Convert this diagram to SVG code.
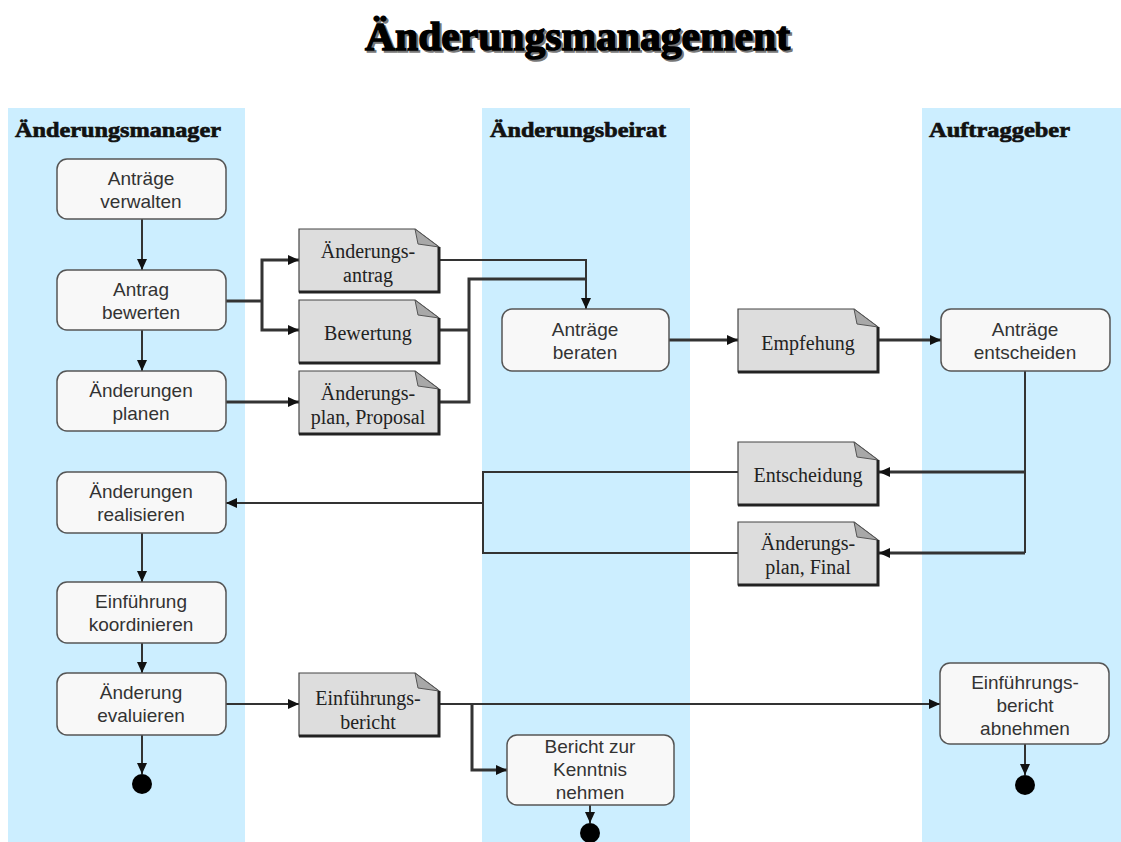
<svg xmlns="http://www.w3.org/2000/svg" xmlns:xlink="http://www.w3.org/1999/xlink" width="1121" height="842" viewBox="0 0 1121 842">
<style>
.lane{fill:#CCEEFF}
.lanehdr{font-family:"Liberation Serif","Times New Roman",serif;font-weight:bold;font-size:22px;fill:#111;stroke:#111;stroke-width:0.7}
.act{fill:#F8F8F8;stroke:#555;stroke-width:1.5}
.at{font-family:"Liberation Sans",Arial,sans-serif;font-size:19px;fill:#333;text-anchor:middle}
.dt{font-family:"Liberation Serif","Times New Roman",serif;font-size:20px;fill:#222;text-anchor:middle}
.ln{fill:none;stroke:#333;stroke-width:2}
.thk{fill:none;stroke:#333;stroke-width:3}
.arr{marker-end:url(#ah)}
.end{fill:#000}
</style>
<defs>
<marker id="ah" markerUnits="userSpaceOnUse" markerWidth="11" markerHeight="10" refX="11" refY="5" orient="auto">
<path d="M0,0 L11,5 L0,10 Z" fill="#111"/>
</marker>
<g id="doc">
<path d="M0,0 H116 L140,18 V63 H0 Z" fill="#DDDDDD" stroke="#444" stroke-width="1.2"/>
<path d="M116,0 L119,15 L140,18 Z" fill="#A8A8A8" stroke="#555" stroke-width="1"/>
<path d="M0,63 H140 V18" fill="none" stroke="#222" stroke-width="3"/>
</g>
</defs>
<rect width="1121" height="842" fill="#FFFFFF"/>
<g id="title">
<text x="367" y="52" textLength="425" lengthAdjust="spacingAndGlyphs" font-family="Liberation Serif,Times New Roman,serif" font-weight="bold" font-size="40" fill="#777" stroke="#777" stroke-width="1.4">Änderungsmanagement</text>
<text x="365" y="50" textLength="425" lengthAdjust="spacingAndGlyphs" font-family="Liberation Serif,Times New Roman,serif" font-weight="bold" font-size="40" fill="#000" stroke="#000" stroke-width="1.4">Änderungsmanagement</text>
</g>
<g id="lanes">
<rect class="lane" x="8" y="108" width="237" height="734"/>
<rect class="lane" x="482" y="108" width="208" height="734"/>
<rect class="lane" x="922" y="108" width="199" height="734"/>
<text class="lanehdr" x="15" y="137" textLength="206" lengthAdjust="spacingAndGlyphs">Änderungsmanager</text>
<text class="lanehdr" x="490" y="137" textLength="176" lengthAdjust="spacingAndGlyphs">Änderungsbeirat</text>
<text class="lanehdr" x="929" y="137" textLength="141" lengthAdjust="spacingAndGlyphs">Auftraggeber</text>
</g>
<g id="connectors">
<path class="ln arr" d="M142,219 V270"/>
<path class="ln arr" d="M142,330 V371"/>
<path class="ln arr" d="M142,533 V582"/>
<path class="ln arr" d="M142,643 V673"/>
<path class="ln arr" d="M142,735 V774"/>
<path class="thk" d="M226,301 H262"/>
<path class="thk arr" d="M262,301 V260 H299"/>
<path class="thk arr" d="M262,301 V330 H299"/>
<path class="thk arr" d="M226,402 H299"/>
<path class="ln arr" d="M438,260 H586 V309"/>
<path class="thk" d="M438,330 H469"/>
<path class="thk" d="M438,402 H469 V279 H586"/>
<path class="thk arr" d="M669,340 H738"/>
<path class="thk arr" d="M878,340 H941"/>
<path class="ln" d="M1025,371 V553"/>
<path class="thk arr" d="M1025,472 H879"/>
<path class="thk arr" d="M1025,553 H879"/>
<path class="ln" d="M738,472 H483 V553 H738"/>
<path class="ln arr" d="M483,503 H226"/>
<path class="ln arr" d="M226,704 H299"/>
<path class="ln arr" d="M438,704 H940"/>
<path class="thk arr" d="M472,704 V770 H507"/>
<path class="ln arr" d="M1025,744 V775"/>
<path class="ln arr" d="M590,805 V823"/>
</g>
<g id="n-antraege-verwalten">
<rect class="act" x="57" y="159" width="169" height="60" rx="10"/>
<text class="at" x="141" y="185">Anträge</text>
<text class="at" x="141" y="208">verwalten</text>
</g>
<g id="n-antrag-bewerten">
<rect class="act" x="57" y="270" width="169" height="60" rx="10"/>
<text class="at" x="141" y="296">Antrag</text>
<text class="at" x="141" y="319">bewerten</text>
</g>
<g id="n-aenderungen-planen">
<rect class="act" x="57" y="371" width="169" height="60" rx="10"/>
<text class="at" x="141" y="397">Änderungen</text>
<text class="at" x="141" y="420">planen</text>
</g>
<g id="n-aenderungen-realisieren">
<rect class="act" x="57" y="472" width="169" height="61" rx="10"/>
<text class="at" x="141" y="498">Änderungen</text>
<text class="at" x="141" y="521">realisieren</text>
</g>
<g id="n-einfuehrung-koordinieren">
<rect class="act" x="57" y="582" width="169" height="61" rx="10"/>
<text class="at" x="141" y="608">Einführung</text>
<text class="at" x="141" y="631">koordinieren</text>
</g>
<g id="n-aenderung-evaluieren">
<rect class="act" x="57" y="673" width="169" height="62" rx="10"/>
<text class="at" x="141" y="699">Änderung</text>
<text class="at" x="141" y="722">evaluieren</text>
</g>
<g id="n-end-1"><circle class="end" cx="142" cy="784" r="10"/></g>
<g id="d-aenderungsantrag">
<use xlink:href="#doc" x="299" y="229"/>
<text class="dt" x="368" y="258">Änderungs-</text>
<text class="dt" x="368" y="282">antrag</text>
</g>
<g id="d-bewertung">
<use xlink:href="#doc" x="299" y="300"/>
<text class="dt" x="368" y="340">Bewertung</text>
</g>
<g id="d-aenderungsplan-proposal">
<use xlink:href="#doc" x="299" y="371"/>
<text class="dt" x="368" y="400">Änderungs-</text>
<text class="dt" x="368" y="424">plan, Proposal</text>
</g>
<g id="n-antraege-beraten">
<rect class="act" x="502" y="309" width="167" height="62" rx="10"/>
<text class="at" x="585" y="336">Anträge</text>
<text class="at" x="585" y="359">beraten</text>
</g>
<g id="d-empfehung">
<use xlink:href="#doc" x="738" y="309"/>
<text class="dt" x="808" y="350">Empfehung</text>
</g>
<g id="n-antraege-entscheiden">
<rect class="act" x="941" y="309" width="169" height="62" rx="10"/>
<text class="at" x="1025" y="336">Anträge</text>
<text class="at" x="1025" y="359">entscheiden</text>
</g>
<g id="d-entscheidung">
<use xlink:href="#doc" x="738" y="442"/>
<text class="dt" x="808" y="482">Entscheidung</text>
</g>
<g id="d-aenderungsplan-final">
<use xlink:href="#doc" x="738" y="522"/>
<text class="dt" x="808" y="550">Änderungs-</text>
<text class="dt" x="808" y="574">plan, Final</text>
</g>
<g id="d-einfuehrungsbericht">
<use xlink:href="#doc" x="299" y="673"/>
<text class="dt" x="368" y="705">Einführungs-</text>
<text class="dt" x="368" y="729">bericht</text>
</g>
<g id="n-bericht-kenntnis">
<rect class="act" x="507" y="735" width="167" height="70" rx="10"/>
<text class="at" x="590" y="753">Bericht zur</text>
<text class="at" x="590" y="776">Kenntnis</text>
<text class="at" x="590" y="799">nehmen</text>
</g>
<g id="n-end-2"><circle class="end" cx="590" cy="833" r="10"/></g>
<g id="n-einfuehrungsbericht-abnehmen">
<rect class="act" x="940" y="663" width="169" height="81" rx="10"/>
<text class="at" x="1025" y="689">Einführungs-</text>
<text class="at" x="1025" y="712">bericht</text>
<text class="at" x="1025" y="735">abnehmen</text>
</g>
<g id="n-end-3"><circle class="end" cx="1025" cy="785" r="10"/></g>
</svg>
